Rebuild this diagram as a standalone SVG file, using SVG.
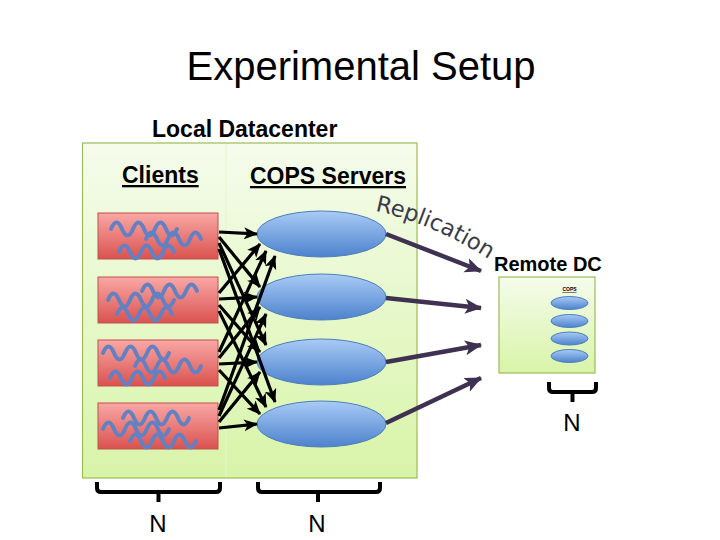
<svg xmlns="http://www.w3.org/2000/svg" width="720" height="540" viewBox="0 0 720 540">
  <style>
    .lbl { font-family: "Liberation Sans", Arial, sans-serif; fill: #000; }
    .bold { font-weight: bold; }
    .ul { text-decoration: underline; }
    .client { fill: url(#gClient); stroke: #c0504d; stroke-width: 1; }
    .wave { fill: none; stroke: #6381c2; stroke-width: 4; stroke-linecap: round; stroke-linejoin: round; }
    .server { fill: url(#gServer); stroke: #4a7ebb; stroke-width: 1; }
    .dc { fill: url(#gDC); stroke: #9bbb59; stroke-width: 1.2; }
    .conn { stroke: #000; stroke-width: 3.2; fill: none; marker-end: url(#blk); }
    .rep { stroke: #3f3151; stroke-width: 4.5; fill: none; marker-end: url(#pur); }
    .brace { fill: none; stroke: #000; stroke-width: 4; stroke-linecap: butt; stroke-linejoin: round; }
  </style>
  <defs>
    <linearGradient id="gClient" x1="0" y1="0" x2="0" y2="1">
      <stop offset="0" stop-color="#f9a8a6"/>
      <stop offset="1" stop-color="#da524f"/>
    </linearGradient>
    <linearGradient id="gServer" x1="0" y1="0" x2="0" y2="1">
      <stop offset="0" stop-color="#a9cbf6"/>
      <stop offset="1" stop-color="#4d82cd"/>
    </linearGradient>
    <linearGradient id="gDC" x1="0" y1="0" x2="0" y2="1">
      <stop offset="0" stop-color="#f5fcec"/>
      <stop offset="1" stop-color="#d8f4a8"/>
    </linearGradient>
    <marker id="blk" markerUnits="userSpaceOnUse" markerWidth="14" markerHeight="13" viewBox="0 0 14 13" refX="13" refY="6.5" orient="auto">
      <path d="M0,0.5 L14,6.5 L0,12.5 L3.5,6.5 z" fill="#000"/>
    </marker>
    <marker id="pur" markerUnits="userSpaceOnUse" markerWidth="17" markerHeight="16" viewBox="0 0 17 16" refX="16" refY="8" orient="auto">
      <path d="M0,0.5 L17,8 L0,15.5 L4,8 z" fill="#3f3151"/>
    </marker>
    <path id="repPath" d="M375,211 Q430,222 490,260"/>
  </defs>

  <rect width="720" height="540" fill="#fff"/>

  <g id="title">
    <text class="lbl" x="361" y="80" font-size="40" text-anchor="middle">Experimental Setup</text>
  </g>

  <g id="local-dc">
    <rect class="dc" x="82.5" y="143" width="334.5" height="335"/>
    <line x1="226" y1="144" x2="226" y2="477" stroke="#e6f3d2" stroke-width="1"/>
    <text class="lbl bold" x="152" y="137" font-size="23">Local Datacenter</text>
    <text class="lbl bold ul" x="122" y="183" font-size="23">Clients</text>
    <text class="lbl bold ul" x="250" y="184" font-size="23">COPS Servers</text>
  </g>

  <g id="client-1">
    <rect class="client" x="98" y="213" width="120" height="46"/>
    <path class="wave" d="M111,229 q5.5,-13 11,0 t11,0 t11,0 t11,0 t11,0 t11,0"/>
    <path class="wave" d="M146,239 q5.5,-13 11,0 t11,0 t11,0 t11,0 t11,0"/>
    <path class="wave" d="M119,252 q5.5,-13 11,0 t11,0 t11,0 t11,0 t11,0"/>
  </g>
  <g id="client-2">
    <rect class="client" x="98" y="277" width="120" height="46"/>
    <path class="wave" d="M142,291 q5.5,-13 11,0 t11,0 t11,0 t11,0 t11,0"/>
    <path class="wave" d="M108,300 q5.5,-13 11,0 t11,0 t11,0 t11,0 t11,0 t11,0"/>
    <path class="wave" d="M117,314 q5.5,-13 11,0 t11,0 t11,0 t11,0 t11,0"/>
  </g>
  <g id="client-3">
    <rect class="client" x="98" y="340" width="120" height="46"/>
    <path class="wave" d="M103,353 q5.5,-13 11,0 t11,0 t11,0 t11,0 t11,0 t11,0"/>
    <path class="wave" d="M135,366 q5.5,-13 11,0 t11,0 t11,0 t11,0 t11,0 t11,0"/>
    <path class="wave" d="M110,378 q5.5,-13 11,0 t11,0 t11,0 t11,0 t11,0"/>
  </g>
  <g id="client-4">
    <rect class="client" x="98" y="403" width="120" height="46"/>
    <path class="wave" d="M123,418 q5.5,-13 11,0 t11,0 t11,0 t11,0 t11,0 t11,0"/>
    <path class="wave" d="M103,429 q5.5,-13 11,0 t11,0 t11,0 t11,0 t11,0 t11,0"/>
    <path class="wave" d="M130,441 q5.5,-13 11,0 t11,0 t11,0 t11,0 t11,0 t11,0"/>
  </g>

  <g id="server-1"><ellipse class="server" cx="321.5" cy="234" rx="64.5" ry="23"/></g>
  <g id="server-2"><ellipse class="server" cx="321.5" cy="297" rx="64.5" ry="23"/></g>
  <g id="server-3"><ellipse class="server" cx="321.5" cy="362" rx="64.5" ry="23"/></g>
  <g id="server-4"><ellipse class="server" cx="321.5" cy="424" rx="64.5" ry="23"/></g>

  <g id="remote-dc">
    <rect class="dc" x="499" y="277" width="96" height="96"/>
    <text class="lbl bold" x="494" y="271" font-size="20">Remote DC</text>
    <text class="lbl bold ul" x="569.5" y="291" font-size="5" text-anchor="middle">COPS</text>
    <ellipse class="server" cx="569.5" cy="303" rx="18.5" ry="6.5"/>
    <ellipse class="server" cx="569.5" cy="321" rx="18.5" ry="6.5"/>
    <ellipse class="server" cx="569.5" cy="338.5" rx="18.5" ry="6.5"/>
    <ellipse class="server" cx="569.5" cy="356" rx="18.5" ry="6.5"/>
  </g>

  <g id="connectors">
    <!-- client 1 -->
    <line class="conn" x1="219" y1="232" x2="257" y2="234"/>
    <line class="conn" x1="219" y1="237" x2="260" y2="287"/>
    <line class="conn" x1="219" y1="243" x2="266" y2="345"/>
    <line class="conn" x1="219" y1="249" x2="275" y2="402"/>
    <!-- client 2 -->
    <line class="conn" x1="219" y1="293" x2="260" y2="244"/>
    <line class="conn" x1="219" y1="299" x2="257" y2="297"/>
    <line class="conn" x1="219" y1="305" x2="260" y2="352"/>
    <line class="conn" x1="219" y1="311" x2="266" y2="407"/>
    <!-- client 3 -->
    <line class="conn" x1="219" y1="352" x2="266" y2="251"/>
    <line class="conn" x1="219" y1="358" x2="260" y2="307"/>
    <line class="conn" x1="219" y1="364" x2="257" y2="362"/>
    <line class="conn" x1="219" y1="370" x2="260" y2="414"/>
    <!-- client 4 -->
    <line class="conn" x1="219" y1="410" x2="275" y2="256"/>
    <line class="conn" x1="219" y1="416" x2="266" y2="314"/>
    <line class="conn" x1="219" y1="422" x2="260" y2="372"/>
    <line class="conn" x1="219" y1="428" x2="257" y2="424"/>
    <!-- replication -->
    <line class="rep" x1="386" y1="234" x2="481" y2="271"/>
    <line class="rep" x1="386" y1="298" x2="481" y2="308"/>
    <line class="rep" x1="386" y1="362" x2="481" y2="345"/>
    <line class="rep" x1="386" y1="423" x2="481" y2="378"/>
    <text font-family="'DejaVu Sans', Verdana, sans-serif" font-size="22.5" fill="#3a3a48"><textPath href="#repPath">Replication</textPath></text>
  </g>

  <g id="brackets">
    <path class="brace" d="M97,482 L97,488 Q97,492 101,492 L216,492 Q220,492 220,488 L220,482 M158.5,492 L158.5,502"/>
    <path class="brace" d="M258,482 L258,488 Q258,492 262,492 L376,492 Q380,492 380,488 L380,482 M318,492 L318,502"/>
    <path class="brace" d="M549,382 L549,388 Q549,392 553,392 L592,392 Q596,392 596,388 L596,382 M572.5,392 L572.5,402"/>
    <text class="lbl" x="158" y="532" font-size="24" text-anchor="middle">N</text>
    <text class="lbl" x="317" y="532" font-size="24" text-anchor="middle">N</text>
    <text class="lbl" x="572" y="431" font-size="24" text-anchor="middle">N</text>
  </g>
</svg>
